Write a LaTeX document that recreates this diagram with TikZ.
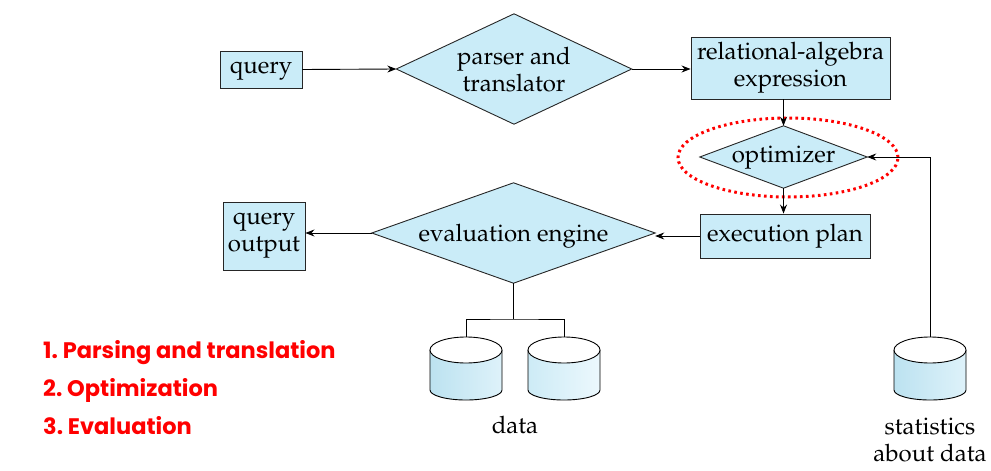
\documentclass[tikz,border=0pt]{standalone}
\usepackage{fontspec}
\usepackage[T1]{fontenc}
\usepackage{mathpazo}
\newfontfamily\listfont{Poppins}
\usetikzlibrary{shapes.geometric,arrows.meta}
\definecolor{boxfill}{RGB}{202,236,248}
\definecolor{cylA}{RGB}{188,226,240}
\definecolor{cylB}{RGB}{222,242,250}
\definecolor{cylC}{RGB}{205,235,246}
\definecolor{cylD}{RGB}{236,248,253}
\definecolor{listred}{RGB}{255,0,0}
\tikzset{
  txt/.style={font=\fontsize{24}{27}\selectfont, align=center},
  box/.style={txt, draw=black!85, line width=0.9pt, fill=boxfill, inner sep=0pt},
  diatext/.style={txt, inner sep=0pt},
  diaedge/.style={draw=black!85, line width=0.9pt, fill=boxfill},
  conn/.style={line width=0.9pt, -{Stealth[length=9pt,width=7pt,inset=3pt]}},
  plain/.style={line width=0.9pt},
  hl/.style={draw=listred, line width=3pt, dash pattern=on 2.6pt off 3.4pt, shape=ellipse, inner sep=0pt},
  listitem/.style={font=\listfont\bfseries\fontsize{22.5}{26}\selectfont, text=listred, anchor=west, inner sep=0pt},
  pics/dbcyl/.style args={#1/#2}{code={
    \shade[left color=#1, right color=#2]
      (-36,13) -- (-36,53) arc[start angle=180,end angle=0,x radius=36,y radius=10] -- (36,13) -- cycle;
    \draw[plain] (-36,13) -- (-36,53) arc[start angle=180,end angle=0,x radius=36,y radius=10] -- (36,13);
    \draw[plain, fill=white] (0,13) ellipse[x radius=36, y radius=13];
    \coordinate (-top) at (0,0);
  }}
}
\newcommand{\diabody}[1]{\path[diaedge] (#1.west) -- (#1.north) -- (#1.east) -- (#1.south) -- cycle;}
\begin{document}
\begin{tikzpicture}[x=1pt,y=-1pt]
\useasboundingbox (0,0) rectangle (991,471);

\node[box, minimum width=82pt, minimum height=37pt] (q) at (261,69.5) {};
\node[txt] (qtxt) at (261,71) {query};
\node[diatext, minimum width=235pt, minimum height=110pt] (parser) at (514,69) {};
\diabody{parser}
\node[txt] (parsertxt) at (514,70) {parser and\\translator};
\node[box, minimum width=199pt, minimum height=62pt] (rel) at (790.5,68) {relational-algebra\\expression};
\node[diatext, minimum width=167pt, minimum height=62pt] (opt) at (783.5,157) {};
\diabody{opt}
\node[txt] (opttxt) at (783.5,158) {optimizer};
\node[hl, minimum width=220pt, minimum height=79pt] (ring) at (788,157.5) {};
\node[box, minimum width=170pt, minimum height=44pt] (exec) at (785,236) {execution plan};
\node[diatext, minimum width=283pt, minimum height=100pt] (eval) at (513.5,233) {};
\diabody{eval}
\node[txt] (evaltxt) at (513.5,236) {evaluation engine};
\node[box, minimum width=82pt, minimum height=68pt] (qo) at (264,236) {query\\output};

\pic (d1) at (466,337) {dbcyl={cylA/cylB}};
\pic (d2) at (564,337) {dbcyl={cylC/cylD}};
\pic (st) at (930,337) {dbcyl={cylA/cylB}};

\node[txt] (datalbl) at (515,425) {data};
\node[txt] (stlbl) at (930,440) {statistics\\about data};

\draw[conn] (q.east) -- (parser.west);
\draw[conn] (parser.east) -- (parser.east -| rel.west);
\draw[conn] (opt.north |- rel.south) -- (opt.north);
\draw[conn] (opt.south) -- (opt.south |- exec.north);
\draw[conn] (exec.west) -- (exec.west -| eval.east);
\draw[conn] (eval.west) -- (eval.west -| qo.east);
\coordinate (jn) at (513.5,319);
\draw[plain] (eval.south) -- (jn);
\draw[plain] (d1-top) |- (jn) -| (d2-top);
\draw[conn] (st-top) |- (opt.east);

\node[listitem] (l1) at (43,353) {1.\ Parsing and translation};
\node[listitem] (l2) at (43,390) {2.\ Optimization};
\node[listitem] (l3) at (43,426) {3.\ Evaluation};
\end{tikzpicture}
\end{document}
